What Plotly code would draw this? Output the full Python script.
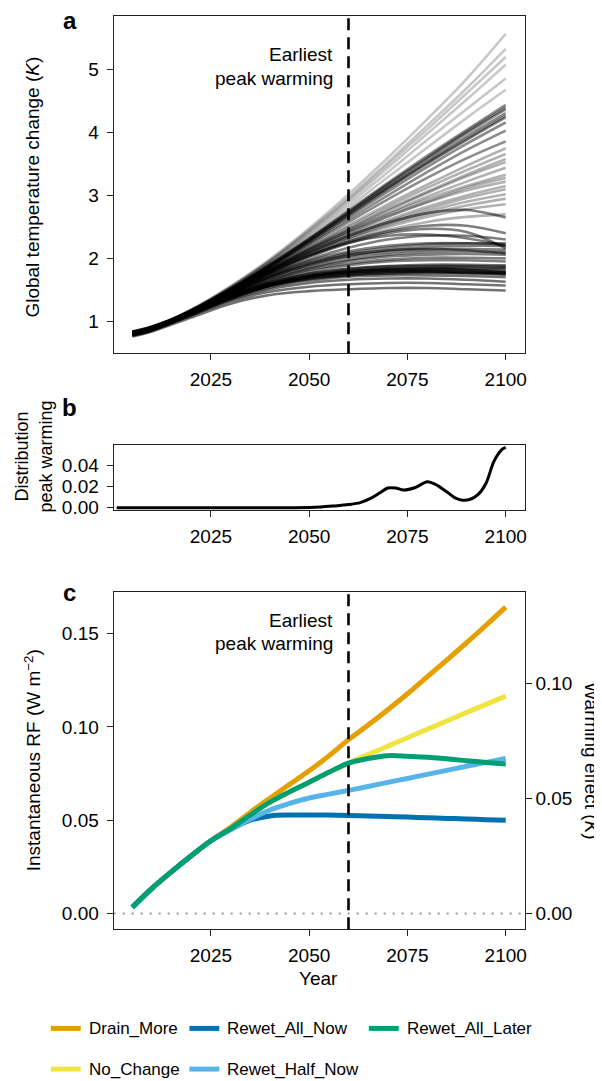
import plotly.graph_objects as go

W, H = 602, 1081

# ---------------- Panel a: ensemble of temperature trajectories ----------------
ens_years = [2005, 2010, 2020, 2030, 2040, 2050, 2060, 2070, 2080, 2090, 2100]
ens_low = [
    [0.76, 0.84, 1.06, 1.28, 1.42, 1.48, 1.51, 1.53, 1.53, 1.51, 1.49],
    [0.78, 0.86, 1.09, 1.32, 1.47, 1.55, 1.59, 1.61, 1.61, 1.59, 1.57],
    [0.79, 0.87, 1.10, 1.34, 1.51, 1.61, 1.66, 1.68, 1.68, 1.66, 1.63],
    [0.80, 0.88, 1.12, 1.36, 1.54, 1.65, 1.71, 1.73, 1.73, 1.72, 1.70],
    [0.81, 0.89, 1.13, 1.38, 1.56, 1.67, 1.73, 1.76, 1.77, 1.76, 1.74],
    [0.82, 0.90, 1.13, 1.38, 1.57, 1.69, 1.75, 1.78, 1.79, 1.78, 1.77],
    [0.80, 0.88, 1.12, 1.37, 1.57, 1.70, 1.77, 1.80, 1.81, 1.80, 1.78],
    [0.83, 0.91, 1.14, 1.40, 1.59, 1.71, 1.78, 1.81, 1.82, 1.82, 1.80],
    [0.79, 0.87, 1.12, 1.38, 1.58, 1.71, 1.79, 1.83, 1.84, 1.84, 1.83],
    [0.81, 0.89, 1.13, 1.39, 1.60, 1.73, 1.80, 1.84, 1.86, 1.86, 1.85],
    [0.80, 0.88, 1.13, 1.40, 1.61, 1.75, 1.83, 1.87, 1.88, 1.88, 1.87],
    [0.84, 0.92, 1.15, 1.42, 1.62, 1.76, 1.84, 1.88, 1.90, 1.90, 1.89],
    [0.78, 0.86, 1.11, 1.37, 1.58, 1.72, 1.80, 1.83, 1.84, 1.82, 1.78],
    [0.82, 0.90, 1.13, 1.39, 1.59, 1.72, 1.78, 1.80, 1.80, 1.78, 1.75],
    [0.77, 0.85, 1.10, 1.36, 1.56, 1.68, 1.74, 1.77, 1.78, 1.77, 1.76],
]
ens_mid = [
    [0.80, 0.88, 1.13, 1.40, 1.63, 1.79, 1.89, 1.95, 1.97, 1.97, 1.95],
    [0.82, 0.90, 1.14, 1.42, 1.65, 1.82, 1.92, 1.98, 2.01, 2.01, 2.00],
    [0.79, 0.87, 1.14, 1.42, 1.66, 1.84, 1.96, 2.03, 2.06, 2.07, 2.06],
    [0.83, 0.91, 1.15, 1.43, 1.68, 1.86, 1.98, 2.06, 2.10, 2.11, 2.10],
    [0.81, 0.89, 1.15, 1.44, 1.70, 1.89, 2.02, 2.10, 2.14, 2.15, 2.14],
    [0.78, 0.86, 1.14, 1.43, 1.70, 1.90, 2.04, 2.13, 2.18, 2.20, 2.20],
    [0.81, 0.89, 1.15, 1.45, 1.72, 1.93, 2.08, 2.17, 2.22, 2.24, 2.24],
    [0.84, 0.92, 1.16, 1.46, 1.74, 1.96, 2.11, 2.20, 2.24, 2.24, 2.22],
    [0.80, 0.88, 1.14, 1.44, 1.71, 1.92, 2.06, 2.13, 2.15, 2.13, 2.08],
]
ens_hump = [
    [0.81, 0.89, 1.15, 1.46, 1.76, 2.02, 2.24, 2.40, 2.47, 2.42, 2.16],
    [0.80, 0.88, 1.15, 1.47, 1.80, 2.10, 2.36, 2.57, 2.72, 2.77, 2.65],
    [0.82, 0.90, 1.15, 1.46, 1.77, 2.04, 2.27, 2.43, 2.52, 2.52, 2.40],
    [0.83, 0.91, 1.16, 1.47, 1.78, 2.05, 2.25, 2.36, 2.38, 2.32, 2.20],
    [0.79, 0.87, 1.14, 1.45, 1.74, 1.98, 2.17, 2.30, 2.36, 2.36, 2.30],
]
ens_rise = [
    [0.81, 0.89, 1.15, 1.46, 1.78, 2.06, 2.30, 2.50, 2.66, 2.78, 2.86],
    [0.80, 0.88, 1.15, 1.47, 1.80, 2.10, 2.37, 2.61, 2.82, 3.00, 3.15],
    [0.82, 0.90, 1.16, 1.48, 1.82, 2.14, 2.43, 2.70, 2.94, 3.15, 3.33],
    [0.81, 0.89, 1.16, 1.48, 1.82, 2.15, 2.46, 2.76, 3.04, 3.30, 3.53],
    [0.79, 0.87, 1.15, 1.46, 1.77, 2.04, 2.27, 2.45, 2.58, 2.66, 2.70],
    [0.81, 0.89, 1.15, 1.47, 1.79, 2.08, 2.33, 2.55, 2.74, 2.90, 3.02],
    [0.80, 0.88, 1.15, 1.47, 1.81, 2.12, 2.40, 2.66, 2.90, 3.12, 3.28],
    [0.82, 0.90, 1.16, 1.48, 1.83, 2.17, 2.50, 2.82, 3.12, 3.40, 3.66],
    [0.80, 0.88, 1.15, 1.46, 1.78, 2.07, 2.32, 2.53, 2.70, 2.84, 2.95],
    [0.81, 0.89, 1.16, 1.48, 1.81, 2.13, 2.41, 2.67, 2.89, 3.08, 3.22],
    [0.82, 0.90, 1.16, 1.48, 1.83, 2.16, 2.47, 2.78, 3.06, 3.33, 3.58],
    [0.81, 0.89, 1.16, 1.49, 1.84, 2.19, 2.53, 2.86, 3.17, 3.47, 3.75],
    [0.79, 0.87, 1.15, 1.47, 1.80, 2.09, 2.35, 2.58, 2.78, 2.96, 3.10],
    [0.81, 0.89, 1.16, 1.48, 1.82, 2.14, 2.44, 2.72, 2.98, 3.22, 3.44],
]
ens_high = [
    [0.81, 0.89, 1.16, 1.49, 1.85, 2.22, 2.58, 2.94, 3.28, 3.59, 3.86],
    [0.81, 0.89, 1.16, 1.49, 1.86, 2.24, 2.62, 3.00, 3.37, 3.72, 4.03],
    [0.82, 0.90, 1.17, 1.50, 1.87, 2.26, 2.66, 3.06, 3.45, 3.82, 4.16],
    [0.80, 0.88, 1.16, 1.50, 1.87, 2.27, 2.68, 3.10, 3.50, 3.88, 4.24],
    [0.81, 0.89, 1.17, 1.51, 1.89, 2.29, 2.71, 3.13, 3.54, 3.94, 4.31],
    [0.82, 0.90, 1.17, 1.51, 1.89, 2.30, 2.73, 3.16, 3.58, 3.99, 4.37],
    [0.81, 0.89, 1.17, 1.52, 1.91, 2.32, 2.76, 3.20, 3.63, 4.04, 4.44],
    [0.80, 0.88, 1.16, 1.50, 1.88, 2.28, 2.70, 3.12, 3.52, 3.90, 4.27],
    [0.81, 0.89, 1.17, 1.51, 1.90, 2.31, 2.74, 3.18, 3.60, 4.01, 4.40],
]
ens_extreme = [
    [0.81, 0.89, 1.17, 1.52, 1.92, 2.35, 2.81, 3.29, 3.76, 4.23, 4.68],
    [0.82, 0.90, 1.18, 1.53, 1.94, 2.38, 2.86, 3.37, 3.88, 4.37, 4.86],
    [0.81, 0.89, 1.18, 1.54, 1.95, 2.41, 2.91, 3.44, 3.98, 4.52, 5.08],
    [0.82, 0.90, 1.18, 1.54, 1.96, 2.43, 2.94, 3.49, 4.05, 4.62, 5.20],
    [0.81, 0.89, 1.18, 1.55, 1.97, 2.45, 2.97, 3.53, 4.11, 4.70, 5.33],
    [0.82, 0.90, 1.19, 1.56, 1.99, 2.48, 3.02, 3.60, 4.21, 4.85, 5.57],
]
ens_groups = [ens_low, ens_mid, ens_hump, ens_rise, ens_high, ens_extreme]
ens_alpha = [0.55, 0.5, 0.5, 0.3, 0.45, 0.22]

# ---------------- Panel b: distribution of peak warming year ----------------
dens_years = [2001, 2010, 2020, 2030, 2040, 2050, 2053, 2056, 2060, 2063, 2066,
              2068, 2070, 2072, 2074, 2077, 2080, 2082, 2085, 2087, 2089, 2091,
              2093, 2095, 2097, 2099, 2100]
dens_vals = [0.0, 0.0, 0.0, 0.0, 0.0, 0.0002, 0.0007, 0.0016, 0.0030, 0.0048, 0.0095,
             0.0140, 0.0185, 0.0185, 0.0166, 0.0190, 0.0244, 0.0222, 0.0150, 0.0095, 0.0071, 0.0080,
             0.0125, 0.0230, 0.0435, 0.0545, 0.0566]

# ---------------- Panel c: radiative forcing scenarios ----------------
rf_years = [2005, 2010, 2015, 2020, 2025, 2030, 2035, 2040, 2045, 2050, 2055, 2060,
            2065, 2070, 2075, 2080, 2085, 2090, 2095, 2100]
rf_series = {
    "Drain_More":      [0.0033, 0.0135, 0.0225, 0.0310, 0.0390, 0.0462, 0.0542, 0.0618, 0.0692,
                        0.0765, 0.0845, 0.0932, 0.1010, 0.1092, 0.1178, 0.1268, 0.1358, 0.1450,
                        0.1545, 0.1642],
    "No_Change":       [0.0033, 0.0135, 0.0225, 0.0310, 0.0390, 0.0455, 0.0528, 0.0597, 0.0652,
                        0.0704, 0.0757, 0.0806, 0.0852, 0.0897, 0.0942, 0.0987, 0.1032, 0.1077,
                        0.1121, 0.1165],
    "Rewet_All_Now":   [0.0033, 0.0135, 0.0225, 0.0310, 0.0390, 0.0450, 0.0500, 0.0523, 0.0528,
                        0.0528, 0.0528, 0.0526, 0.0523, 0.0520, 0.0517, 0.0513, 0.0510, 0.0507,
                        0.0503, 0.0500],
    "Rewet_Half_Now":  [0.0033, 0.0135, 0.0225, 0.0310, 0.0390, 0.0450, 0.0505, 0.0555, 0.0590,
                        0.0619, 0.0640, 0.0660, 0.0681, 0.0703, 0.0724, 0.0746, 0.0767, 0.0789,
                        0.0810, 0.0831],
    "Rewet_All_Later": [0.0033, 0.0135, 0.0225, 0.0310, 0.0390, 0.0455, 0.0528, 0.0597, 0.0652,
                        0.0704, 0.0757, 0.0806, 0.0831, 0.0846, 0.0843, 0.0837, 0.0829, 0.0819,
                        0.0810, 0.0801],
}
rf_colors = {"Drain_More": "#E69F00", "No_Change": "#F0E442", "Rewet_All_Now": "#0072B2",
             "Rewet_Half_Now": "#56B4E9", "Rewet_All_Later": "#009E73"}
draw_order = ["Drain_More", "No_Change", "Rewet_All_Now", "Rewet_Half_Now", "Rewet_All_Later"]
legend_rows = [["Drain_More", "Rewet_All_Now", "Rewet_All_Later"],
               ["No_Change", "Rewet_Half_Now"]]
k_per_rf = 0.812          # warming effect (K) per W m-2 (right axis scale)
earliest_peak = 2060
x_ticks = [2025, 2050, 2075, 2100]

FONT = "Liberation Sans, Arial, Helvetica, sans-serif"
FS = 19
FS_LEG = 17

def px(x):
    return x / W

def py(y):
    return 1 - y / H

fig = go.Figure()

for grp, a in zip(ens_groups, ens_alpha):
    for row in grp:
        fig.add_trace(go.Scatter(x=ens_years, y=row, mode="lines",
                                 line=dict(color=f"rgba(0,0,0,{a})", width=2.6, shape="spline"),
                                 xaxis="x", yaxis="y", showlegend=False, hoverinfo="skip"))

fig.add_trace(go.Scatter(x=dens_years, y=dens_vals, mode="lines",
                         line=dict(color="black", width=3, shape="spline", smoothing=0.8),
                         xaxis="x2", yaxis="y2", showlegend=False))

for name in draw_order:
    fig.add_trace(go.Scatter(x=rf_years, y=rf_series[name], mode="lines", name=name,
                             line=dict(color=rf_colors[name], width=5, shape="spline"),
                             xaxis="x3", yaxis="y3", showlegend=False))

xdom = [px(106), px(518.3)]
xrange_ = [2000.25, 2104.8]
dom_a = [py(347.7), py(8)]
dom_b = [py(506), py(440)]
dom_c = [py(928), py(588)]

axis_common = dict(showline=True, linecolor="#222", linewidth=1, mirror=True,
                   showgrid=False, zeroline=False, ticks="outside", ticklen=6,
                   tickcolor="#222", tickfont=dict(family=FONT, size=FS, color="black"))

xcommon = dict(axis_common, range=xrange_, domain=xdom, tickvals=x_ticks,
               ticklabelstandoff=3)

rf_range = [-0.00835, 0.1725]

fig.update_layout(
    width=W, height=H, margin=dict(l=0, r=0, t=0, b=0),
    paper_bgcolor="white", plot_bgcolor="white",
    font=dict(family=FONT, size=FS, color="black"),
    xaxis=dict(xcommon, anchor="y"),
    yaxis=dict(axis_common, domain=dom_a, range=[0.495, 5.853], anchor="x",
               tickvals=[1, 2, 3, 4, 5], ticklabelstandoff=4),
    xaxis2=dict(xcommon, anchor="y2"),
    yaxis2=dict(axis_common, domain=dom_b, range=[-0.0023, 0.059], anchor="x2",
                tickvals=[0, 0.02, 0.04], tickformat=".2f", ticklabelstandoff=4),
    xaxis3=dict(xcommon, anchor="y3"),
    yaxis3=dict(axis_common, domain=dom_c, range=rf_range, anchor="x3",
                tickvals=[0, 0.05, 0.10, 0.15], tickformat=".2f", ticklabelstandoff=4),
    yaxis4=dict(axis_common, domain=dom_c, overlaying="y3", side="right", anchor="x3",
                range=[rf_range[0] * k_per_rf, rf_range[1] * k_per_rf],
                tickvals=[0, 0.05, 0.10], tickformat=".2f", ticklabelstandoff=0, mirror=False),
)

# invisible trace to activate the right axis
fig.add_trace(go.Scatter(x=[rf_years[0]], y=[rf_series["Drain_More"][0] * k_per_rf], mode="lines",
                         xaxis="x3", yaxis="y4", showlegend=False, hoverinfo="skip",
                         line=dict(color="rgba(0,0,0,0)")))

shapes = []
for xa, ya in [("x", "y"), ("x3", "y3")]:
    shapes.append(dict(type="line", xref=xa, yref=f"{ya} domain", x0=earliest_peak, x1=earliest_peak,
                       y0=0, y1=1, line=dict(color="black", width=2.6, dash="12px,7px")))
shapes.append(dict(type="line", xref="x3 domain", yref="y3", x0=0, x1=1, y0=0, y1=0,
                   line=dict(color="#9a9a9a", width=2, dash="2px,7px"), layer="below"))

annotations = []
for ytop, ybot in [(47, 71), (617, 640)]:
    annotations.append(dict(x=px(328), y=py(ytop), xref="paper", yref="paper", text="Earliest",
                            showarrow=False, xanchor="right", yanchor="middle",
                            font=dict(family=FONT, size=FS)))
    annotations.append(dict(x=px(328), y=py(ybot), xref="paper", yref="paper", text="peak warming",
                            showarrow=False, xanchor="right", yanchor="middle",
                            font=dict(family=FONT, size=FS)))

for letter, (lx, ly) in {"a": (62, 13), "b": (62, 402), "c": (62, 589)}.items():
    annotations.append(dict(x=px(lx), y=py(ly), xref="paper", yref="paper", text=f"<b>{letter}</b>",
                            showarrow=False, xanchor="center", yanchor="middle",
                            font=dict(family=FONT, size=24)))

annotations += [
    dict(x=px(25), y=py(180), xref="paper", yref="paper", text="Global temperature change (<i>K</i>)",
         textangle=-90, showarrow=False, xanchor="center", yanchor="middle", font=dict(family=FONT, size=FS)),
    dict(x=px(26), y=py(452), xref="paper", yref="paper", text="Distribution<br>peak warming",
         textangle=-90, showarrow=False, xanchor="center", yanchor="middle", font=dict(family=FONT, size=18)),
    dict(x=px(25), y=py(758), xref="paper", yref="paper", text="Instantaneous RF (W m<sup>−2</sup>)",
         textangle=-90, showarrow=False, xanchor="center", yanchor="middle", font=dict(family=FONT, size=FS)),
    dict(x=px(586), y=py(758), xref="paper", yref="paper", text="Warming effect (<i>K</i>)",
         textangle=90, showarrow=False, xanchor="center", yanchor="middle", font=dict(family=FONT, size=FS)),
    dict(x=px(312), y=py(978), xref="paper", yref="paper", text="Year",
         showarrow=False, xanchor="center", yanchor="middle", font=dict(family=FONT, size=FS)),
]

# legend (manual, two rows)
leg_x = [43, 182, 362]
leg_y = [1028, 1069]
for r, row in enumerate(legend_rows):
    for c, name in enumerate(row):
        x0 = leg_x[c]
        shapes.append(dict(type="line", xref="paper", yref="paper", x0=px(x0), x1=px(x0 + 30),
                           y0=py(leg_y[r]), y1=py(leg_y[r]),
                           line=dict(color=rf_colors[name], width=5)))
        annotations.append(dict(x=px(x0 + 36), y=py(leg_y[r]), xref="paper", yref="paper", text=name,
                                showarrow=False, xanchor="left", yanchor="middle",
                                font=dict(family=FONT, size=FS_LEG)))

fig.update_layout(shapes=shapes, annotations=annotations)
fig.write_html("out.html")
